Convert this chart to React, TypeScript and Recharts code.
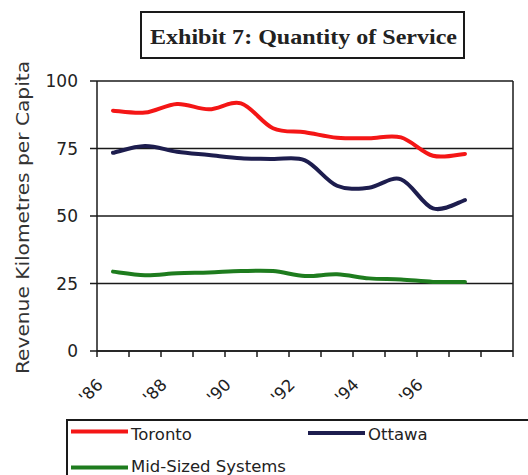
import React from 'react';
import { LineChart, Line, XAxis, YAxis, CartesianGrid, ReferenceLine } from 'recharts';

// Revenue kilometres per capita, 1986–1997
const years = [1986, 1987, 1988, 1989, 1990, 1991, 1992, 1993, 1994, 1995, 1996, 1997];
const toronto = [89.0, 88.3, 91.5, 89.5, 91.7, 82.5, 81.0, 79.0, 78.8, 79.1, 72.3, 73.0];
const ottawa = [73.4, 75.9, 73.8, 72.6, 71.4, 71.1, 70.6, 61.2, 60.5, 63.6, 52.8, 55.9];
const midSized = [29.4, 28.1, 28.8, 29.1, 29.6, 29.6, 27.8, 28.4, 26.9, 26.5, 25.6, 25.6];

// Category boundaries on the year axis and the years that carry a label
const xBoundaries = [1985.5, 1986.5, 1987.5, 1988.5, 1989.5, 1990.5, 1991.5, 1992.5, 1993.5, 1994.5, 1995.5, 1996.5, 1997.5, 1998.5];
const xLabels = ["'86", "'88", "'90", "'92", "'94", "'96"];
const yTicks = [0, 25, 50, 75, 100];

const seriesInfo = [
  { key: 'toronto', name: 'Toronto', color: '#f41616' },
  { key: 'ottawa', name: 'Ottawa', color: '#1d1d4e' },
  { key: 'mid', name: 'Mid-Sized Systems', color: '#1e7c1e' },
];

const data = years.map((year, i) => ({
  year,
  toronto: toronto[i],
  ottawa: ottawa[i],
  mid: midSized[i],
}));

// Smoothed line (Catmull-Rom style cubic segments through every point)
const smoothCurve = (ctx: any) => {
  let pts: number[][] = [];
  return {
    areaStart() {},
    areaEnd() {},
    lineStart() {
      pts = [];
    },
    point(x: number, y: number) {
      pts.push([+x, +y]);
    },
    lineEnd() {
      if (!pts.length) return;
      ctx.moveTo(pts[0][0], pts[0][1]);
      for (let i = 0; i < pts.length - 1; i++) {
        const p0 = pts[i - 1] ?? pts[i];
        const p1 = pts[i];
        const p2 = pts[i + 1];
        const p3 = pts[i + 2] ?? p2;
        ctx.bezierCurveTo(
          p1[0] + (p2[0] - p0[0]) / 6,
          p1[1] + (p2[1] - p0[1]) / 6,
          p2[0] - (p3[0] - p1[0]) / 6,
          p2[1] - (p3[1] - p1[1]) / 6,
          p2[0],
          p2[1]
        );
      }
    },
  };
};

const FONT = '"DejaVu Sans", sans-serif';
const INK = '#1a1a1a';

const labelFor = (boundary: number) => {
  const year = boundary + 0.5;
  const label = "'" + String(year).slice(2);
  return xLabels.includes(label) ? label : '';
};

// Year axis tick: a short mark below the axis and, for every other year, a slanted label
const XTick = (props: any) => {
  const { x, y, payload } = props;
  const text = labelFor(payload.value);
  const cx = x - 6;
  const cy = y + 40;
  return (
    <g>
      <line x1={x} y1={y} x2={x} y2={y + 6} stroke={INK} strokeWidth={1.5} />
      {text ? (
        <text
          x={cx}
          y={cy}
          transform={`rotate(-45 ${cx} ${cy})`}
          textAnchor="middle"
          dominantBaseline="central"
          fontFamily={FONT}
          fontSize={16.5}
          fill="#222"
        >
          {text}
        </text>
      ) : null}
    </g>
  );
};

// Value axis tick: outward mark and right-aligned number
const YTick = (props: any) => {
  const { x, y, payload } = props;
  return (
    <g>
      <line x1={x - 7} y1={y} x2={x} y2={y} stroke={INK} strokeWidth={1.5} />
      <text
        x={x - 19}
        y={y}
        dy="0.36em"
        textAnchor="end"
        fontFamily={FONT}
        fontSize={17}
        fill="#222"
      >
        {payload.value}
      </text>
    </g>
  );
};

// Legend entries: swatch start, swatch centre line and text baseline
const legendRows = [
  { item: seriesInfo[0], x: 71, lineY: 431.5, baseY: 440 },
  { item: seriesInfo[1], x: 308, lineY: 433, baseY: 440 },
  { item: seriesInfo[2], x: 71, lineY: 467.5, baseY: 472 },
];

export default function App() {
  return (
    <div style={{ position: 'absolute', left: 0, top: 0, width: 528, height: 475, overflow: 'hidden', background: '#fff' }}>
      <LineChart
        width={528}
        height={475}
        data={data}
        margin={{ top: 81, right: 15, bottom: 84, left: 37 }}
      >
        <CartesianGrid vertical={false} stroke={INK} strokeWidth={1.5} />
        <XAxis
          dataKey="year"
          type="number"
          domain={[1985.5, 1998.5]}
          ticks={xBoundaries}
          interval={0}
          height={40}
          tickSize={0}
          tickMargin={0}
          tickLine={false}
          axisLine={{ stroke: INK, strokeWidth: 1.5 }}
          tick={<XTick />}
        />
        <YAxis
          domain={[0, 100]}
          ticks={yTicks}
          interval={0}
          width={60}
          tickSize={0}
          tickMargin={0}
          tickLine={false}
          axisLine={{ stroke: INK, strokeWidth: 1.5 }}
          tick={<YTick />}
        />
        <ReferenceLine x={1998.5} stroke={INK} strokeWidth={1.5} />
        {seriesInfo.map((s) => (
          <Line
            key={s.key}
            dataKey={s.key}
            name={s.name}
            type={smoothCurve as any}
            stroke={s.color}
            strokeWidth={4}
            strokeLinecap="round"
            dot={false}
            activeDot={false}
            isAnimationActive={false}
          />
        ))}
      </LineChart>

      <svg width={528} height={475} style={{ position: 'absolute', left: 0, top: 0, pointerEvents: 'none' }}>
        <rect x={141} y={12} width={323} height={46} fill="#fff" stroke={INK} strokeWidth={2} />
        <text
          x={150}
          y={44}
          fontFamily='"Liberation Serif", "Times New Roman", serif'
          fontWeight="bold"
          fontSize={21}
          fill="#222"
          textLength={307}
          lengthAdjust="spacingAndGlyphs"
        >
          Exhibit 7: Quantity of Service
        </text>
        <text
          x={28.5}
          y={217.5}
          transform="rotate(-90 28.5 217.5)"
          textAnchor="middle"
          fontFamily={FONT}
          fontSize={17.5}
          fill="#333"
          textLength={313}
          lengthAdjust="spacingAndGlyphs"
        >
          Revenue Kilometres per Capita
        </text>

        <path d="M67 480 L67 420 L530 420" fill="none" stroke={INK} strokeWidth={2} />
        {legendRows.map(({ item, x, lineY, baseY }) => (
          <g key={item.key}>
            <line x1={x} y1={lineY} x2={x + 57} y2={lineY} stroke={item.color} strokeWidth={4} />
            <text x={x + 60} y={baseY} fontFamily={FONT} fontSize={16.5} fill="#222">
              {item.name}
            </text>
          </g>
        ))}
      </svg>
    </div>
  );
}
